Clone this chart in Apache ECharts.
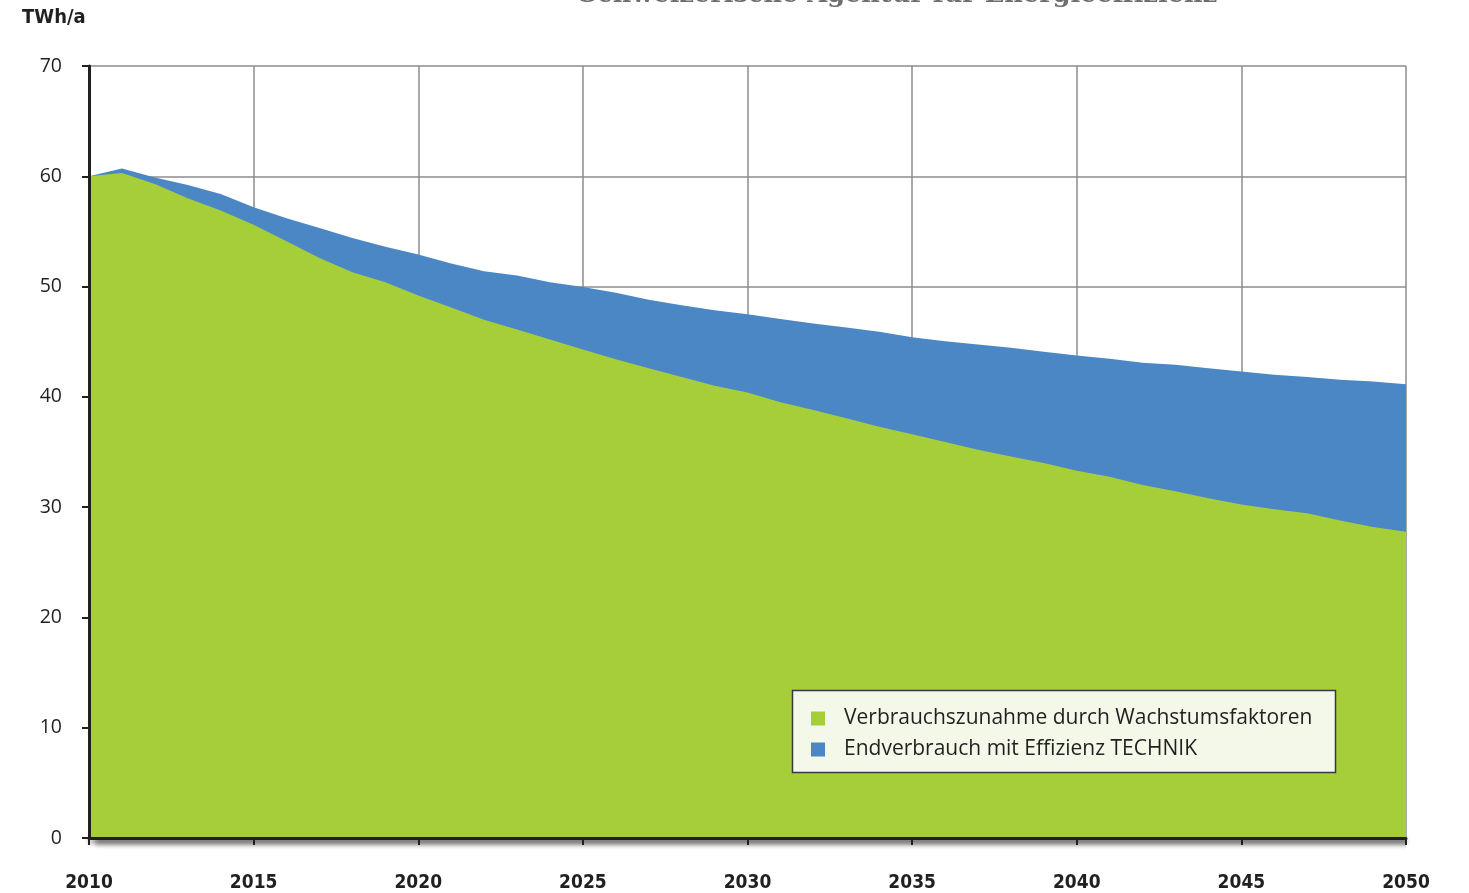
<!DOCTYPE html>
<html>
<head>
<meta charset="utf-8">
<script src="https://cdn.jsdelivr.net/npm/echarts@6/dist/echarts.min.js"></script>
<style>
html,body{margin:0;padding:0;background:#fff;}
#c{width:1469px;height:893px;}
</style>
</head>
<body>
<div id="c"></div>
<script>
const years = [2010,2011,2012,2013,2014,2015,2016,2017,2018,2019,2020,2021,2022,2023,2024,2025,2026,2027,2028,2029,2030,2031,2032,2033,2034,2035,2036,2037,2038,2039,2040,2041,2042,2043,2044,2045,2046,2047,2048,2049,2050];
const effizienzTechnik = [60.0,60.7,59.9,59.2,58.4,57.2,56.2,55.3,54.4,53.6,52.9,52.1,51.4,51.0,50.4,49.95,49.45,48.8,48.3,47.85,47.5,47.05,46.65,46.3,45.9,45.4,45.05,44.75,44.45,44.1,43.75,43.45,43.1,42.9,42.6,42.3,42.0,41.8,41.55,41.4,41.15];
const wachstum = [60.0,60.3,59.3,58.0,56.9,55.6,54.1,52.6,51.3,50.4,49.2,48.1,47.0,46.1,45.2,44.3,43.4,42.6,41.8,41.0,40.4,39.5,38.8,38.05,37.3,36.6,35.9,35.2,34.6,34.0,33.3,32.75,32.0,31.45,30.8,30.25,29.8,29.45,28.8,28.2,27.77];
const seriesNames = ['Verbrauchszunahme durch Wachstumsfaktoren','Endverbrauch mit Effizienz TECHNIK'];
const yTicks = [0,10,20,30,40,50,60,70];
const xTicks = [2010,2015,2020,2025,2030,2035,2040,2045,2050];

const green = '#a6ce39', blue = '#4b87c5';
const xMin = xTicks[0], xMax = xTicks[xTicks.length-1];
const yMin = yTicks[0], yMax = yTicks[yTicks.length-1];
const chart = echarts.init(document.getElementById('c'), null, {renderer:'canvas'});
chart.setOption({
  animation:false,
  backgroundColor:'#ffffff',
  grid:{left:89,right:63,top:66,bottom:55,containLabel:false},
  xAxis:[
    {type:'value',min:xMin,max:xMax,interval:5,z:0,
     axisLine:{show:false},axisTick:{show:false},axisLabel:{show:false},
     splitLine:{show:true,lineStyle:{color:'#8c8c8c',width:1.5}}},
    {type:'value',min:xMin,max:xMax,interval:5,z:10,position:'bottom',
     axisLine:{show:true,onZero:false,lineStyle:{color:'#231f20',width:3,shadowColor:'rgba(0,0,0,0.35)',shadowBlur:4,shadowOffsetY:3}},
     axisTick:{show:true,length:7,lineStyle:{color:'#231f20',width:2}},
     splitLine:{show:false},
     axisLabel:{margin:36,color:'#231f20',fontFamily:'DejaVu Sans Condensed',fontWeight:'bold',fontSize:19,formatter:v=>String(v)}}
  ],
  yAxis:[
    {type:'value',min:yMin,max:yMax,interval:10,z:0,
     axisLine:{show:false},axisTick:{show:false},axisLabel:{show:false},
     splitLine:{show:true,lineStyle:{color:'#8c8c8c',width:1.5}}},
    {type:'value',min:yMin,max:yMax,interval:10,z:10,position:'left',
     axisLine:{show:true,onZero:false,lineStyle:{color:'#231f20',width:3}},
     axisTick:{show:true,length:7,lineStyle:{color:'#231f20',width:2}},
     splitLine:{show:false},
     axisLabel:{margin:27,color:'#231f20',fontFamily:'Open Sans',fontSize:19.5}}
  ],
  legend:{
    orient:'vertical',left:806,top:703,itemWidth:14,itemHeight:14,itemGap:10,z:20,
    icon:'rect',
    data:[seriesNames[0],seriesNames[1]],
    textStyle:{fontFamily:'Open Sans',fontSize:21,color:'#231f20',padding:[0,0,0,14]}
  },
  graphic:[
    {type:'rect',z:15,shape:{x:792.5,y:690.5,width:543,height:82},style:{fill:'#f3f8e8',stroke:'#3a3a3a',lineWidth:1.5}},
    {type:'text',z:15,left:22,top:8,style:{text:'TWh/a',font:'bold 20px "DejaVu Sans Condensed"',fill:'#231f20'}},
    {type:'text',z:15,x:898,y:8,style:{text:'Schweizerische Agentur für Energieeffizienz',font:'bold 25.6px "DejaVu Serif"',fill:'#6d6e71',align:'center',verticalAlign:'bottom'}}
  ],
  series:[
    {name:seriesNames[1],type:'line',xAxisIndex:0,yAxisIndex:0,z:2,clip:false,symbol:'none',lineStyle:{width:0},
     areaStyle:{color:blue,opacity:1,shadowColor:'rgba(0,0,0,0.4)',shadowBlur:5,shadowOffsetX:6,shadowOffsetY:7},
     itemStyle:{color:blue},
     data:years.map((y,i)=>[y,effizienzTechnik[i]])},
    {name:seriesNames[0],type:'line',xAxisIndex:0,yAxisIndex:0,z:3,symbol:'none',lineStyle:{width:0},
     areaStyle:{color:green,opacity:1},
     itemStyle:{color:green},
     data:years.map((y,i)=>[y,wachstum[i]])}
  ]
});
</script>
</body>
</html>
